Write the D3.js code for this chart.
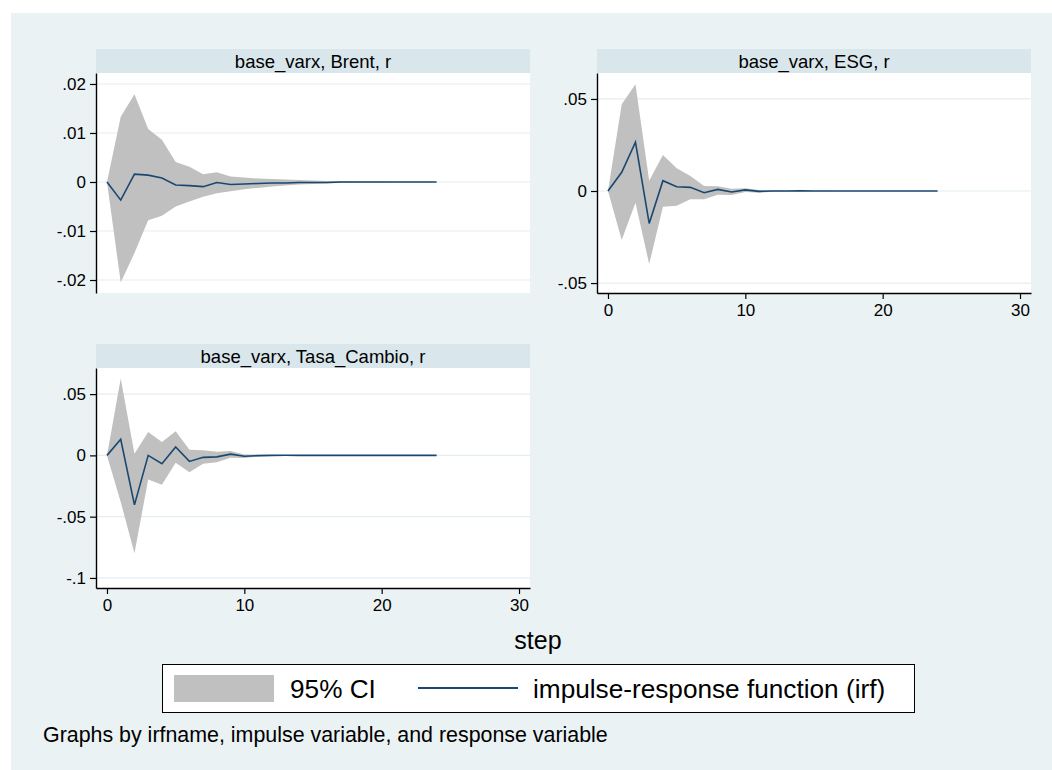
<!DOCTYPE html>
<html>
<head>
<meta charset="utf-8">
<script src="https://cdn.jsdelivr.net/npm/d3@7"></script>
<style>
  body { margin: 0; background: #fff; }
  svg { display: block; font-family: "Liberation Sans", Arial, sans-serif; }
</style>
</head>
<body>
<svg id="chart" width="1052" height="770"></svg>
<script>
// steps of the impulse-response
const steps = [0, 1, 2, 3, 4, 5, 6, 7, 8, 9, 10, 11, 12, 13, 14, 15, 16, 17, 18, 19, 20, 21, 22, 23, 24];

const brentIrf = [0, -0.0037, 0.0016, 0.0014, 0.0008, -0.0006, -0.00075, -0.00095, -0.0001, -0.0005,
    -0.0004, -0.0003, -0.0002, -0.0002, -0.0001, -0.0001, -0.0001, 0, 0, 0, 0, 0, 0, 0, 0];
const brentLo = [0, -0.0205, -0.0145, -0.0078, -0.0069, -0.0050, -0.0040, -0.0030, -0.0023, -0.0019,
    -0.0015, -0.0012, -0.0009, -0.0007, -0.0005, -0.0004, -0.0003, -0.0002, -0.00015, -0.0001,
    -0.00008, -0.00005, -0.00004, -0.00003, -0.00002];
const brentHi = [0, 0.0133, 0.0179, 0.0108, 0.0086, 0.0041, 0.0031, 0.0016, 0.0020, 0.0011,
    0.0009, 0.0007, 0.0006, 0.0005, 0.0004, 0.0003, 0.0002, 0.0002, 0.00015, 0.0001,
    0.0001, 0.00005, 0.00005, 0.00003, 0.00002];

const esgIrf = [0, 0.0102, 0.0265, -0.0176, 0.0056, 0.0023, 0.0020, -0.0009, 0.0009, -0.0005,
    0.0006, -0.0002, 0, 0, 0.0001, 0, 0, 0, 0, 0, 0, 0, 0, 0, 0];
const esgLo = [0, -0.0266, -0.0064, -0.0397, -0.0085, -0.0080, -0.0045, -0.0045, -0.0020, -0.0022,
    -0.0006, -0.0009, -0.0004, -0.0003, -0.0001, -0.0001, -0.00005, 0, 0, 0, 0, 0, 0, 0, 0];
const esgHi = [0, 0.0471, 0.0580, 0.0056, 0.0196, 0.0123, 0.0082, 0.0027, 0.0026, 0.0012,
    0.0015, 0.0005, 0.0004, 0.0002, 0.0002, 0.0001, 0.0001, 0.00005, 0, 0, 0, 0, 0, 0, 0];

const tasaIrf = [0, 0.0131, -0.0404, 0, -0.0068, 0.0068, -0.0049, -0.0016, -0.0012, 0.0010,
    -0.0007, -0.0002, 0, 0.0001, 0, 0, 0, 0, 0, 0, 0, 0, 0, 0, 0];
const tasaLo = [0, -0.0380, -0.0798, -0.0197, -0.0240, -0.0060, -0.0137, -0.0068, -0.0055, -0.0020,
    -0.0022, -0.0010, -0.0006, -0.0002, -0.0001, 0, 0, 0, 0, 0, 0, 0, 0, 0, 0];
const tasaHi = [0, 0.0628, 0.0014, 0.0190, 0.0109, 0.0197, 0.0047, 0.0041, 0.0030, 0.0035,
    0.0008, 0.0006, 0.0004, 0.0003, 0.0001, 0, 0, 0, 0, 0, 0, 0, 0, 0, 0];

const brentTicks = [-0.02, -0.01, 0, 0.01, 0.02];
const brentTickLabels = ["-.02", "-.01", "0", ".01", ".02"];
const esgTicks = [-0.05, 0, 0.05];
const esgTickLabels = ["-.05", "0", ".05"];
const tasaTicks = [-0.1, -0.05, 0, 0.05];
const tasaTickLabels = ["-.1", "-.05", "0", ".05"];
const xTicks = [0, 10, 20, 30];

const panels = [
    { title: "base_varx, Brent, r", left: 96, top: 49, irf: brentIrf, lo: brentLo, hi: brentHi,
      yDomain: [-0.02265, 0.02224], ticks: brentTicks, labels: brentTickLabels, showX: false },
    { title: "base_varx, ESG, r", left: 597, top: 49, irf: esgIrf, lo: esgLo, hi: esgHi,
      yDomain: [-0.0554, 0.0641], ticks: esgTicks, labels: esgTickLabels, showX: true },
    { title: "base_varx, Tasa_Cambio, r", left: 96, top: 344, irf: tasaIrf, lo: tasaLo, hi: tasaHi,
      yDomain: [-0.1082, 0.0713], ticks: tasaTicks, labels: tasaTickLabels, showX: true }
];

const ciColor = "#c0c0c0",
    lineColor = "#1a476f",
    gridColor = "#e4edf0",
    stripColor = "#d9e6eb",
    regionColor = "#eaf2f3";

const svg = d3.select("#chart");
const plotW = 434, stripH = 24, plotH = 220;

svg.append("rect")
    .attr("x", 11).attr("y", 13)
    .attr("width", 1041).attr("height", 757)
    .attr("fill", regionColor);

panels.forEach(p => {
    const g = svg.append("g").attr("transform", `translate(${p.left},${p.top})`);

    g.append("rect")
        .attr("width", plotW).attr("height", stripH)
        .attr("fill", stripColor);
    g.append("text")
        .attr("x", plotW / 2).attr("y", stripH / 2 + 6.5)
        .attr("text-anchor", "middle")
        .attr("font-size", "18.5px")
        .text(p.title);

    const plot = g.append("g").attr("transform", `translate(0,${stripH})`);
    plot.append("rect")
        .attr("width", plotW).attr("height", plotH)
        .attr("fill", "#fff");

    const x = d3.scaleLinear().domain([-0.8, 30.8]).range([0, plotW]);
    const y = d3.scaleLinear().domain(p.yDomain).range([plotH, 0]);

    plot.selectAll("line.grid")
        .data(p.ticks)
        .enter()
        .append("line")
        .attr("class", "grid")
        .attr("x1", 0).attr("x2", plotW)
        .attr("y1", d => y(d)).attr("y2", d => y(d))
        .attr("stroke", gridColor)
        .attr("stroke-width", 1.2);

    const area = d3.area()
        .x((d, i) => x(steps[i]))
        .y0((d, i) => y(p.lo[i]))
        .y1((d, i) => y(p.hi[i]));
    plot.append("path")
        .datum(steps)
        .attr("d", area)
        .attr("fill", ciColor);

    const line = d3.line()
        .x((d, i) => x(steps[i]))
        .y(d => y(d));
    plot.append("path")
        .datum(p.irf)
        .attr("d", line)
        .attr("fill", "none")
        .attr("stroke", lineColor)
        .attr("stroke-width", 1.6);

    const yAxis = plot.append("g")
        .call(d3.axisLeft(y)
            .tickValues(p.ticks)
            .tickFormat((d, i) => p.labels[i])
            .tickSize(6)
            .tickSizeOuter(0)
            .tickPadding(4));
    yAxis.selectAll("text").attr("font-size", "17px").attr("fill", "#000").attr("font-family", null);
    yAxis.selectAll("line").attr("stroke", "#000").attr("stroke-width", 1.2);
    yAxis.select(".domain").attr("stroke", "#000").attr("stroke-width", 1.4);

    if (p.showX) {
        const xAxis = plot.append("g")
            .attr("transform", `translate(0,${plotH})`)
            .call(d3.axisBottom(x)
                .tickValues(xTicks)
                .tickSize(6)
                .tickSizeOuter(0)
                .tickPadding(5));
        xAxis.selectAll("text").attr("font-size", "17px").attr("fill", "#000").attr("font-family", null);
        xAxis.selectAll("line").attr("stroke", "#000").attr("stroke-width", 1.2);
        xAxis.select(".domain").attr("stroke", "#000").attr("stroke-width", 1.4);
    }
});

svg.append("text")
    .attr("x", 538).attr("y", 649)
    .attr("text-anchor", "middle")
    .attr("font-size", "25px")
    .text("step");

// legend
const legend = svg.append("g");
legend.append("rect")
    .attr("x", 162.5).attr("y", 664.5)
    .attr("width", 752).attr("height", 48)
    .attr("fill", "#fff")
    .attr("stroke", "#000")
    .attr("stroke-width", 1);
legend.append("rect")
    .attr("x", 174).attr("y", 675)
    .attr("width", 100).attr("height", 27)
    .attr("fill", ciColor);
legend.append("text")
    .attr("x", 290).attr("y", 698)
    .attr("font-size", "26.2px")
    .text("95% CI");
legend.append("line")
    .attr("x1", 418).attr("x2", 518)
    .attr("y1", 688).attr("y2", 688)
    .attr("stroke", lineColor)
    .attr("stroke-width", 2);
legend.append("text")
    .attr("x", 533).attr("y", 698)
    .attr("font-size", "26.2px")
    .text("impulse-response function (irf)");

svg.append("text")
    .attr("x", 43).attr("y", 742)
    .attr("font-size", "21.4px")
    .text("Graphs by irfname, impulse variable, and response variable");
</script>
</body>
</html>
